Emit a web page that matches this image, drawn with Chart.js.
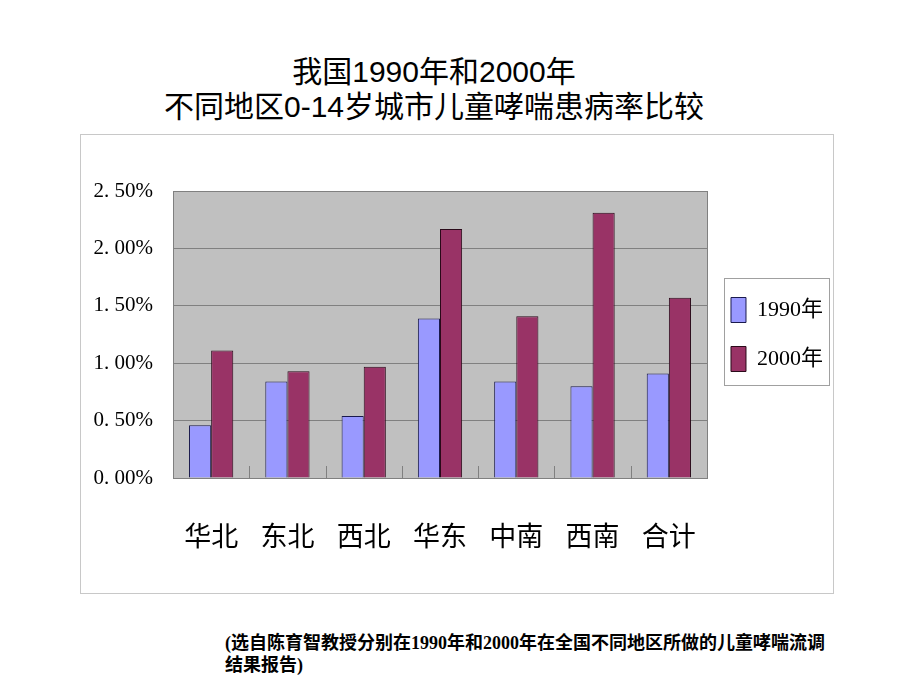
<!DOCTYPE html>
<html>
<head>
<meta charset="utf-8">
<script src="https://cdn.jsdelivr.net/npm/chart.js@4.4.0/dist/chart.umd.min.js"></script>
<style>
  body { margin:0; background:#fff; width:920px; height:690px; position:relative; overflow:hidden; }
  .title { position:absolute; left:0; width:868px; text-align:center; font-family:"Liberation Sans","Noto Sans CJK SC",sans-serif; font-size:30px; color:#000; line-height:34px; }
  #box { position:absolute; left:80px; top:134px; width:752px; height:458px; border:1px solid #c8c8c8; }
  .note { position:absolute; left:225px; top:632px; font-family:"Liberation Serif","Noto Sans CJK SC",serif; font-size:18px; font-weight:bold; line-height:22px; color:#000; }
</style>
</head>
<body>
<div class="title" style="top:55px">我国1990年和2000年</div>
<div class="title" style="top:90px">不同地区0-14岁城市儿童哮喘患病率比较</div>
<div id="box"><canvas id="myChart" width="752" height="458"></canvas></div>
<div class="note">(选自陈育智教授分别在1990年和2000年在全国不同地区所做的儿童哮喘流调<br>结果报告)</div>
<script>
	// 지역, 값 (%)
	var regions = ['华北','东北','西北','华东','中南','西南','合计'];
	var rate1990 = [0.46, 0.84, 0.54, 1.39, 0.84, 0.80, 0.91];
	var rate2000 = [1.11, 0.93, 0.97, 2.17, 1.41, 2.31, 1.57];
	var seriesNames = ['1990年','2000年'];
	var yTicks = [0, 0.5, 1.0, 1.5, 2.0, 2.5];

	// 회색 플롯 배경 + 테두리 + 범례 박스
	var plotBg = {
		id: 'plotBg',
		beforeDraw: function(chart){
			var a = chart.chartArea, ctx = chart.ctx;
			ctx.save();
			ctx.fillStyle = '#c0c0c0';
			ctx.fillRect(a.left, a.top, a.right-a.left, a.bottom-a.top);
			ctx.restore();
		},
		afterDraw: function(chart){
			var a = chart.chartArea, ctx = chart.ctx;
			ctx.save();
			ctx.strokeStyle = '#808080';
			ctx.lineWidth = 1;
			ctx.strokeRect(a.left+0.5, a.top+0.5, a.right-a.left, a.bottom-a.top);
			// 카테고리 경계 눈금 (안쪽)
			var n = regions.length, w = (a.right-a.left)/n;
			for(var i=1;i<n;i++){
				var x = Math.round(a.left + i*w)+0.5;
				ctx.beginPath(); ctx.moveTo(x, a.bottom); ctx.lineTo(x, a.bottom-12); ctx.stroke();
			}
			// 범례 테두리
			var hb = chart.legend.legendHitBoxes;
			if(hb && hb.length){
				var bh = 25;
				var first = hb[0], last = hb[hb.length-1];
				var l = first.left - 7;
				var t = first.top + (first.height - bh)/2 - 20;
				var r = Math.max.apply(null, hb.map(function(h){return h.left+h.width;})) + 6;
				var b = last.top + (last.height + bh)/2 + 13;
				ctx.strokeStyle = '#a0a0a0';
				ctx.strokeRect(Math.round(l)+0.5, Math.round(t)+0.5, Math.round(r-l), Math.round(b-t));
			}
			ctx.restore();
		}
	};

	new Chart('myChart', {
		type: 'bar',
		data: {
			labels: regions,
			datasets: [{
				label: seriesNames[0],
				backgroundColor: '#9999ff',
				borderColor: '#1a1a4d',
				borderWidth: 1,
				data: rate1990
			},{
				label: seriesNames[1],
				backgroundColor: '#993366',
				borderColor: '#2a0a1a',
				borderWidth: 1,
				data: rate2000
			}]
		},
		options: {
			responsive: false,
			animation: false,
			layout: { padding: { left: 0, top: 56, right: 0, bottom: 0 } },
			datasets: { bar: { categoryPercentage: 0.58, barPercentage: 1.0 } },
			plugins: {
				legend: {
					position: 'right',
					fullSize: false,
					labels: {
						boxWidth: 15, boxHeight: 25, padding: 24,
						color: '#000',
						font: { family: '"Liberation Serif","Noto Sans CJK SC",serif', size: 22, lineHeight: 1.5 }
					}
				},
				tooltip: { enabled: false }
			},
			scales: {
				x: {
					grid: { display: false, drawTicks: false },
					border: { color: '#808080' },
					afterFit: function(axis){ axis.height = 115; },
					ticks: { color: '#000', padding: 42, font: { family: '"Noto Sans CJK SC",sans-serif', size: 27 } }
				},
				y: {
					min: 0, max: 2.5,
					afterBuildTicks: function(axis){ axis.ticks = yTicks.map(function(v){ return {value:v}; }); },
					afterFit: function(axis){ axis.width = 92; },
					grid: { color: '#808080', drawTicks: false },
					border: { color: '#808080' },
					ticks: {
						color: '#000', padding: 20,
						font: { family: '"Liberation Serif",serif', size: 21 },
						callback: function(v){ return v.toFixed(2).replace('.', '. ') + '%'; }
					}
				}
			}
		},
		plugins: [plotBg]
	});
</script>
</body>
</html>
